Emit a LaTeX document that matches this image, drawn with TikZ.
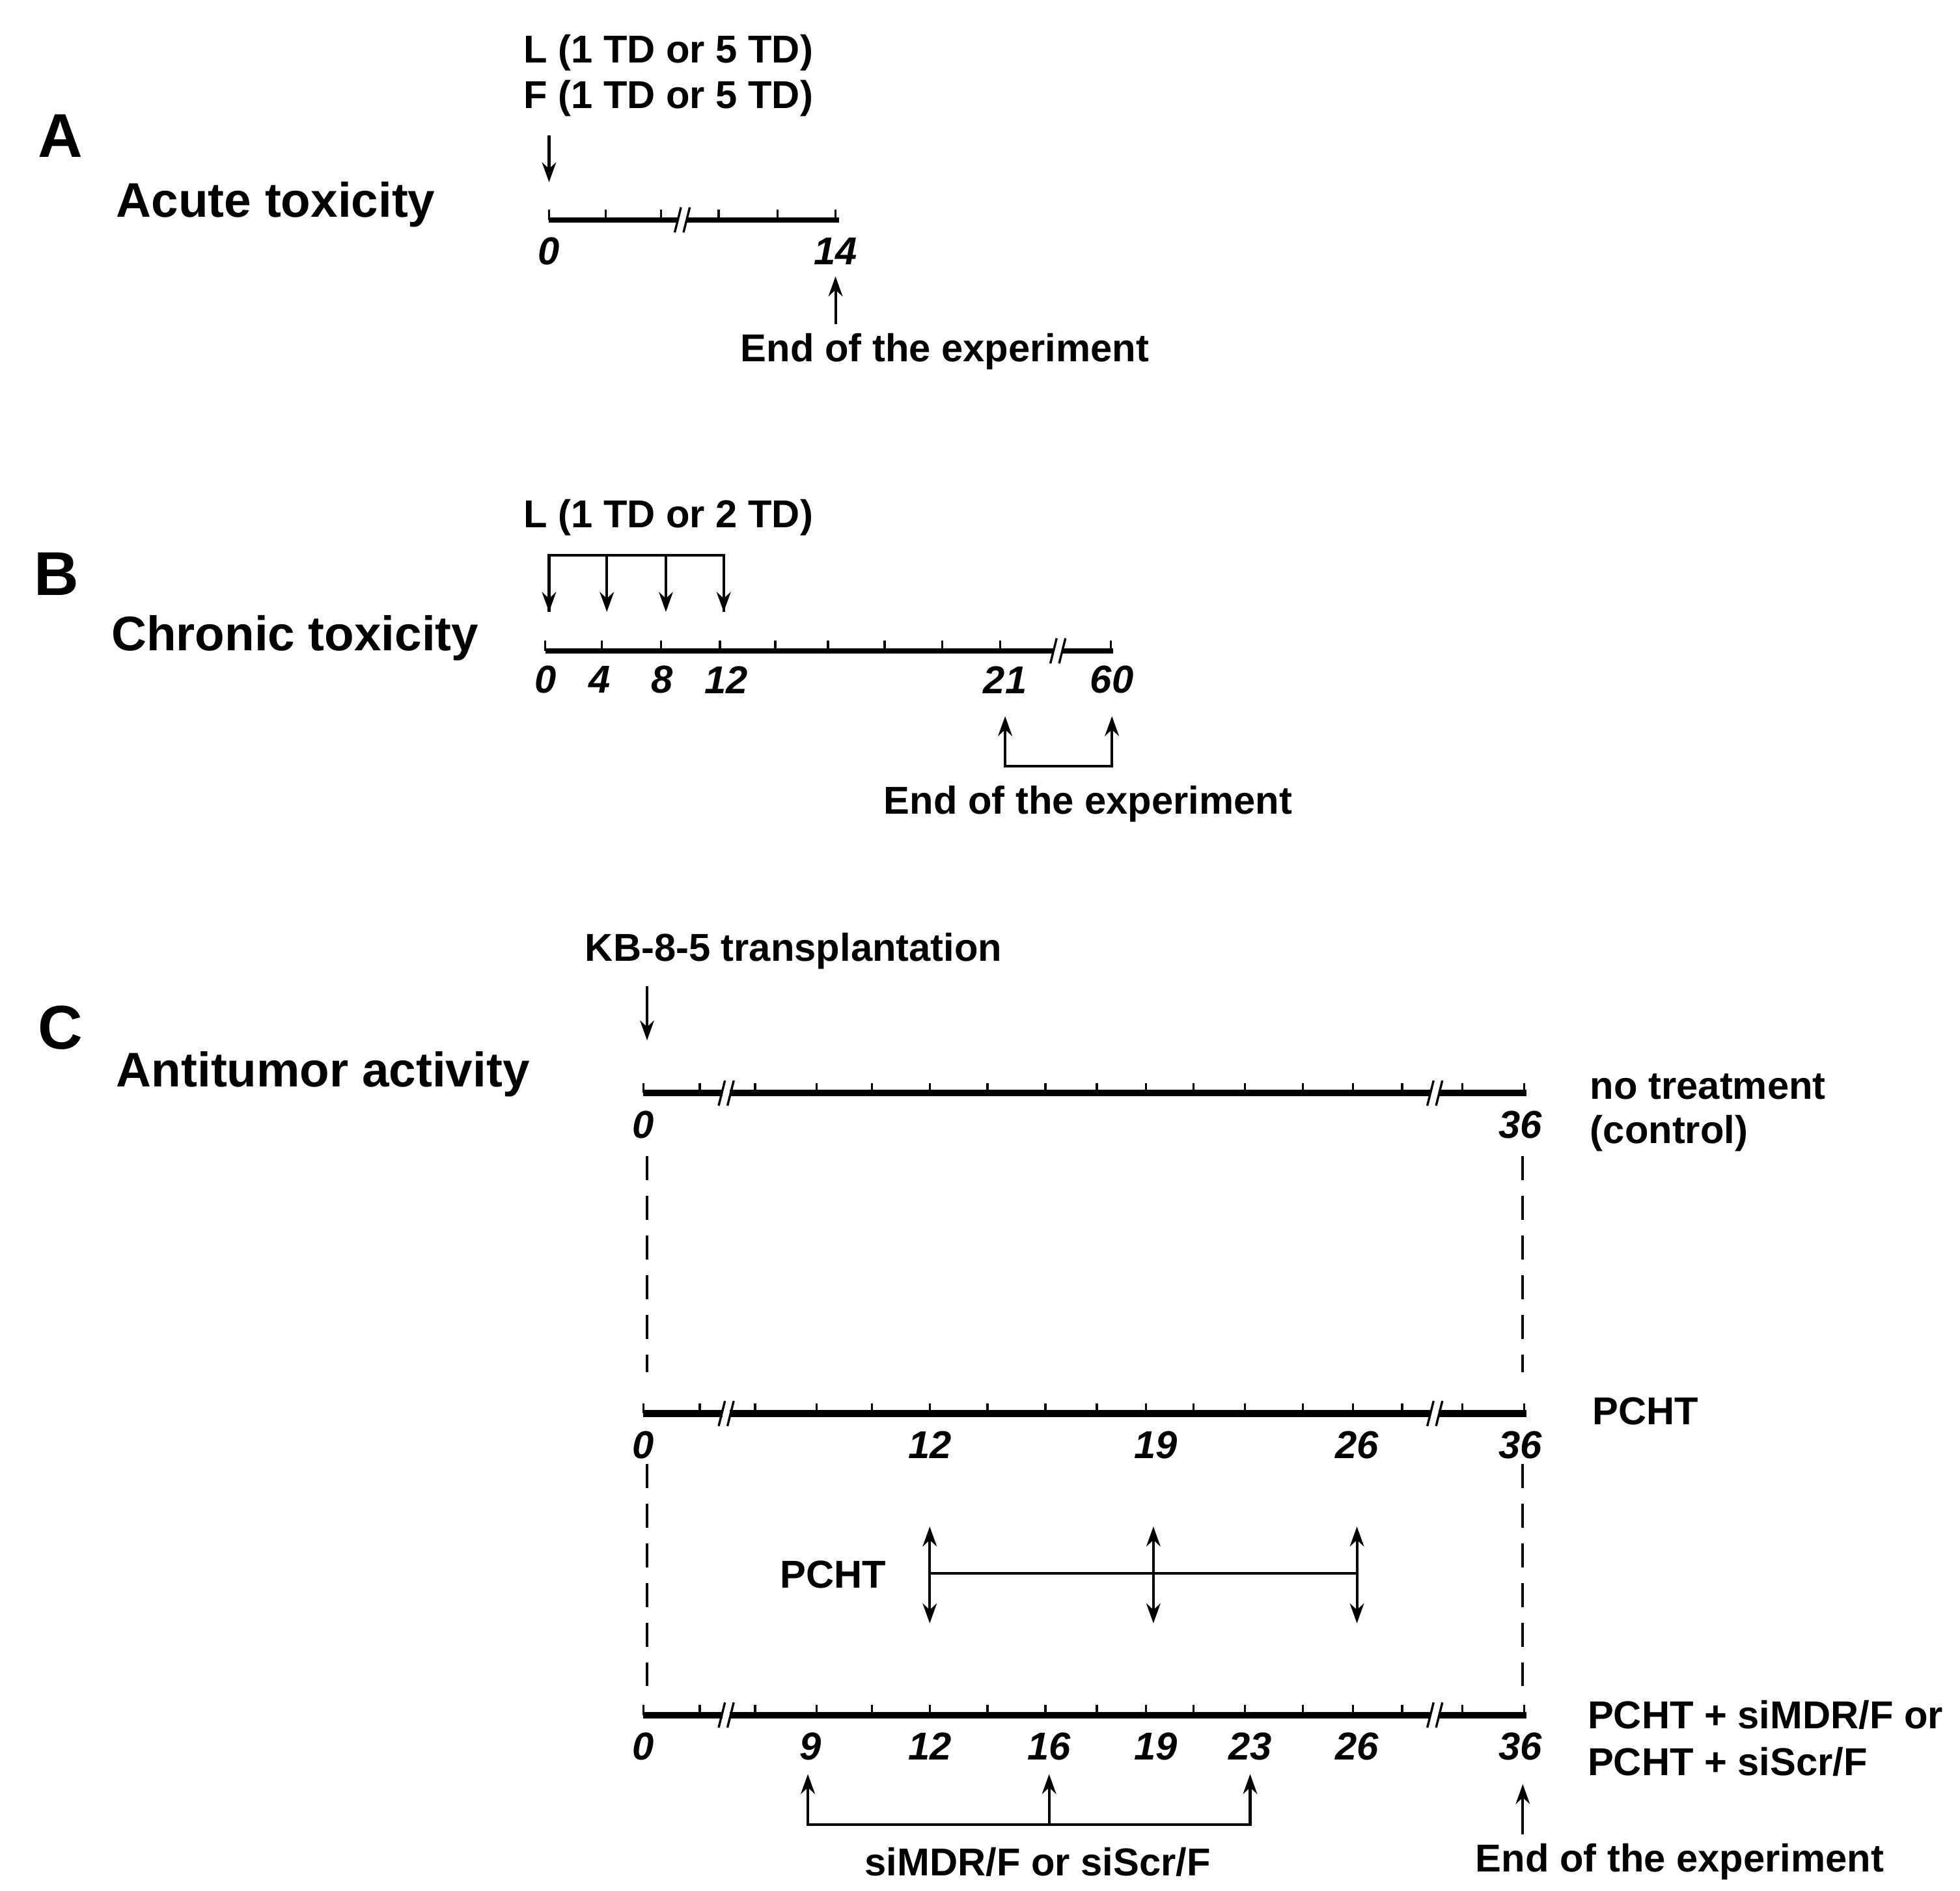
\documentclass[tikz,border=0pt]{standalone}
\usepackage{fontspec}
\setmainfont{Liberation Sans}
\usetikzlibrary{arrows.meta}
\newcommand\brk[2]{\fill[white] (#1-3,#2-7) rectangle (#1+3,#2+7);
 \draw[line width=0.5pt] (#1-6,#2+10)--(#1-1,#2-10); \draw[line width=0.5pt] (#1+1,#2+10)--(#1+6,#2-10);}
\tikzset{
 lbl/.style={font=\fontsize{8.8}{10}\selectfont\bfseries, inner sep=0},
 num/.style={font=\fontsize{8.8}{10}\selectfont\bfseries\itshape, inner sep=0},
 big/.style={font=\fontsize{14}{16}\selectfont\bfseries, inner sep=0},
 ttl/.style={font=\fontsize{11}{13}\selectfont\bfseries, inner sep=0, anchor=west},
 ar/.style={line width=0.6pt, -{Stealth[length=4.5pt,width=3.2pt]}},
 dar/.style={line width=0.6pt, {Stealth[length=4.5pt,width=3.2pt]}-{Stealth[length=4.5pt,width=3.2pt]}},
 tl/.style={line width=1.1pt},
 tlc/.style={line width=1.5pt},
 tk/.style={line width=0.5pt},
 dsh/.style={line width=0.6pt, dash pattern=on 5.5pt off 3.5pt},
}
\begin{document}
\begin{tikzpicture}[x=0.01cm,y=-0.01cm]
\useasboundingbox (0,0) rectangle (1560,1505);
\fill[white] (0,0) rectangle (1560,1505);
% ---------- A
\node[big] (A) at (48,108) {A};
\node[ttl] (At) at (92,163) {Acute toxicity};
\node[lbl,anchor=west] (AL) at (416,42) {L (1 TD or 5 TD)};
\node[lbl,anchor=west] (AF) at (416,78) {F (1 TD or 5 TD)};
\coordinate (a0) at (437,175); \coordinate (a1) at (668,175);
\draw[ar] (437,108) -- (437,145);
\draw[tl] (a0) -- (a1);
\foreach \x in {437,482,526,572,619,665} \draw[tk] (\x,175) -- (\x,167);
\brk{543}{175}
\node[num] (a0l) at (437,200) {0};
\node[num] (a14) at (665,200) {14};
\node[lbl] (Aend) at (752,280) {End of the experiment};
\draw[ar] (665,258) -- (665,220);
% ---------- B
\node[big] (B) at (45,457) {B};
\node[ttl] (Bt) at (88,508) {Chronic toxicity};
\node[lbl,anchor=west] (BL) at (416,412) {L (1 TD or 2 TD)};
\draw[line width=0.6pt] (437,487) -- (437,442) -- (576,442) -- (576,487);
\foreach \x in {437,483,530,576} \draw[ar] (\x,442) -- (\x,487);
\draw[tl] (434,518) -- (886,518);
\foreach \x in {434,479,526,573,617,659,704,750,796,884} \draw[tk] (\x,518) -- (\x,510);
\brk{842}{518}
\foreach \x/\t in {434/0,477/4,527/8,578/12,800/21,885/60} \node[num] at (\x,541) {\t};
\draw[line width=0.6pt] (800,580) -- (800,610) -- (885,610) -- (885,580);
\draw[ar] (800,610) -- (800,570); \draw[ar] (885,610) -- (885,570);
\node[lbl] (Bend) at (866,640) {End of the experiment};
% ---------- C
\node[big] (C) at (48,818) {C};
\node[ttl] (Ct) at (92,855) {Antitumor activity};
\node[lbl,anchor=west] (KB) at (465,757) {KB-8-5 transplantation};
\draw[ar] (515,785) -- (515,828);
\foreach \y in {870,1125,1365}{
 \draw[tlc] (512,\y) -- (1215,\y);
 \foreach \x in {512,557,601,650,694,740,786,832,873,912,950,991,1037,1077,1116,1164,1213} \draw[tk] (\x,\y) -- (\x,\y-8);
 \brk{578}{\y} \brk{1142}{\y}
}
\node[num] at (512,895) {0}; \node[num] at (1210,895) {36};
\node[lbl,anchor=west] at (1265,865) {no treatment};
\node[lbl,anchor=west] at (1265,902) {(control)};
\draw[dsh] (515,920) -- (515,1092); \draw[dsh] (1212,920) -- (1212,1092);
\foreach \x/\t in {512/0,740/12,920/19,1080/26,1210/36} \node[num] at (\x,1150) {\t};
\node[lbl,anchor=west] at (1267,1123) {PCHT};
\draw[dsh] (515,1165) -- (515,1342); \draw[dsh] (1212,1165) -- (1212,1342);
\node[lbl] (P) at (663,1253) {PCHT};
\draw[line width=0.6pt] (740,1252) -- (1080,1252);
\foreach \x in {740,918,1080} \draw[dar] (\x,1215) -- (\x,1292);
\foreach \x/\t in {512/0,645/9,740/12,835/16,920/19,995/23,1080/26,1210/36} \node[num] at (\x,1390) {\t};
\node[lbl,anchor=west] at (1263,1365) {PCHT + siMDR/F or};
\node[lbl,anchor=west] at (1263,1402) {PCHT + siScr/F};
\draw[line width=0.6pt] (643,1420) -- (643,1452) -- (995,1452) -- (995,1420);
\foreach \x in {643,835,995} \draw[ar] (\x,1452) -- (\x,1412);
\node[lbl] (si) at (826,1482) {siMDR/F or siScr/F};
\draw[ar] (1212,1460) -- (1212,1420);
\node[lbl] (Cend) at (1337,1482) {End of the experiment};
\end{tikzpicture}
\end{document}
